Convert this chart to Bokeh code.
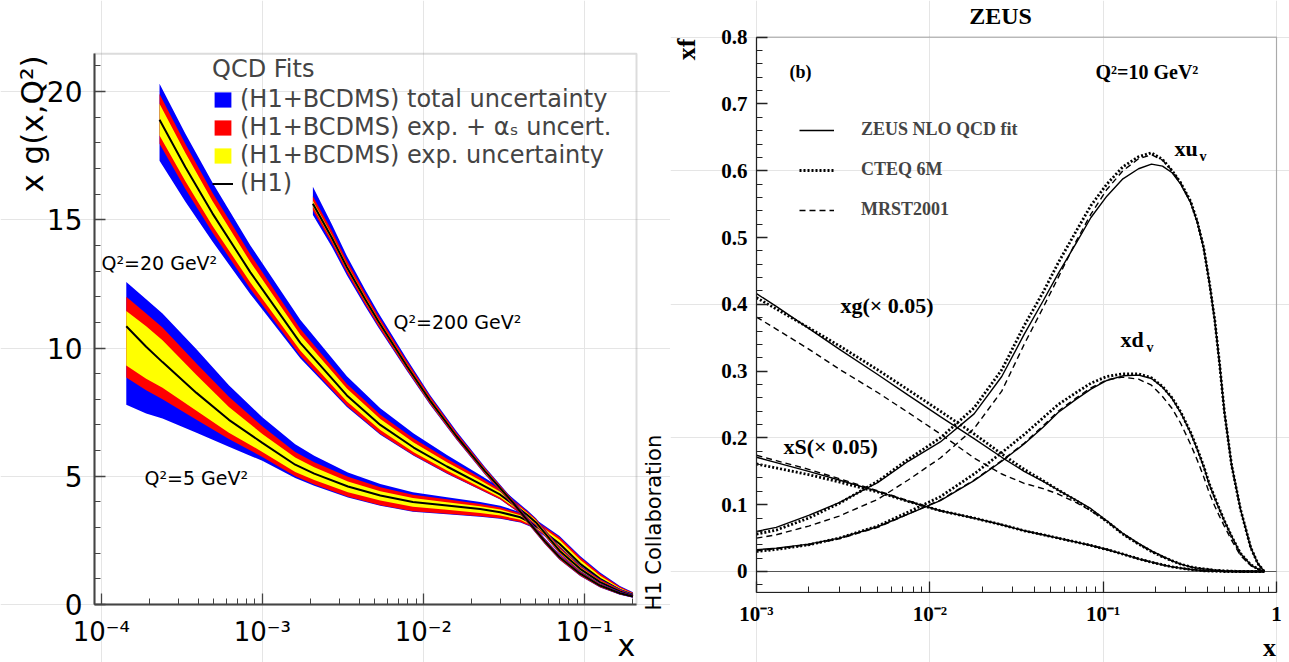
import numpy as np
from bokeh.plotting import figure
from bokeh.models import (FixedTicker, Label, Legend, LegendItem, Range1d, LogAxis,
                          LinearAxis, BoxAnnotation)
from bokeh.layouts import row
from bokeh.embed import file_html
from bokeh.resources import INLINE

# ---------------- H1 gluon density (left panel) ----------------
# Q2 = 5 GeV2 : central value and distances of band edges (upper / lower)
x_q5 = [1.43e-4, 1.9e-4, 2.4e-4, 3.9e-4, 6.2e-4, 1e-3, 1.6e-3, 2.1e-3, 3.4e-3, 5.4e-3, 8.6e-3,
        0.014, 0.0225, 0.03, 0.04, 0.046, 0.053, 0.07, 0.094, 0.125, 0.166, 0.2]
c_q5 = [10.85, 10.05, 9.45, 8.25, 7.2, 6.3, 5.45, 5.1, 4.6, 4.25, 4.0,
        3.86, 3.72, 3.6, 3.4, 3.2, 2.95, 2.37, 1.59, 1.0, 0.57, 0.38]
bu_q5 = [1.72, 1.85, 1.9, 1.7, 1.35, 1.0, 0.8, 0.7, 0.55, 0.45, 0.38, 0.32, 0.28, 0.25, 0.2, 0.2, 0.25, 0.3, 0.3, 0.25, 0.15, 0.1]
ru_q5 = [1.15, 1.3, 1.35, 1.15, 0.9, 0.65, 0.5, 0.45, 0.38, 0.32, 0.28, 0.24, 0.2, 0.18, 0.15, 0.15, 0.2, 0.25, 0.25, 0.2, 0.12, 0.08]
yu_q5 = [0.59, 0.8, 0.85, 0.7, 0.5, 0.35, 0.28, 0.25, 0.2, 0.17, 0.15, 0.13, 0.11, 0.1, 0.08, 0.08, 0.12, 0.15, 0.15, 0.12, 0.07, 0.05]
yl_q5 = [1.53, 1.25, 1.0, 0.7, 0.5, 0.35, 0.28, 0.25, 0.22, 0.2, 0.19, 0.17, 0.15, 0.13, 0.1, 0.09, 0.09, 0.09, 0.09, 0.07, 0.05, 0.04]
rl_q5 = [2.0, 1.7, 1.45, 1.05, 0.75, 0.55, 0.45, 0.42, 0.4, 0.38, 0.36, 0.32, 0.28, 0.24, 0.18, 0.14, 0.13, 0.13, 0.12, 0.1, 0.07, 0.05]
bl_q5 = [3.06, 2.6, 2.2, 1.55, 1.05, 0.7, 0.52, 0.47, 0.43, 0.4, 0.38, 0.34, 0.3, 0.26, 0.2, 0.16, 0.15, 0.15, 0.14, 0.12, 0.08, 0.06]

# Q2 = 20 GeV2
x_q20 = [2.3e-4, 3.33e-4, 4.9e-4, 8.43e-4, 1.72e-3, 3.35e-3, 5.4e-3, 8.7e-3, 0.014, 0.0225, 0.03,
         0.044, 0.05, 0.061, 0.07, 0.094, 0.125, 0.166, 0.2]
c_q20 = [18.9, 17.05, 15.25, 12.95, 10.2, 8.15, 7.0, 6.12, 5.38, 4.7, 4.28, 3.5, 3.2, 2.55, 2.1, 1.39, 0.87, 0.51, 0.33]
bu_q20 = [1.4, 1.3, 1.2, 1.05, 0.9, 0.75, 0.65, 0.55, 0.45, 0.35, 0.28, 0.18, 0.16, 0.15, 0.15, 0.14, 0.12, 0.09, 0.07]
ru_q20 = [1.0, 0.9, 0.8, 0.7, 0.55, 0.45, 0.4, 0.35, 0.3, 0.25, 0.2, 0.14, 0.13, 0.12, 0.12, 0.11, 0.1, 0.07, 0.05]
yu_q20 = [0.62, 0.55, 0.48, 0.4, 0.32, 0.27, 0.23, 0.2, 0.17, 0.14, 0.12, 0.08, 0.08, 0.07, 0.07, 0.07, 0.06, 0.04, 0.03]
yl_q20 = [0.62, 0.55, 0.48, 0.4, 0.3, 0.24, 0.2, 0.18, 0.16, 0.13, 0.11, 0.08, 0.08, 0.07, 0.07, 0.07, 0.06, 0.04, 0.03]
rl_q20 = [0.94, 0.85, 0.75, 0.65, 0.5, 0.4, 0.35, 0.3, 0.26, 0.22, 0.18, 0.13, 0.12, 0.11, 0.11, 0.1, 0.09, 0.06, 0.04]
bl_q20 = [1.6, 1.35, 1.1, 0.85, 0.6, 0.45, 0.38, 0.32, 0.28, 0.23, 0.19, 0.14, 0.13, 0.12, 0.12, 0.11, 0.1, 0.07, 0.05]

# Q2 = 200 GeV2
x_q200 = [2.06e-3, 2.7e-3, 3.35e-3, 4.35e-3, 5.24e-3, 7.89e-3, 0.011, 0.0161, 0.0241, 0.0362, 0.0459,
          0.0569, 0.07, 0.094, 0.125, 0.166, 0.2]
c_q200 = [15.62, 14.3, 13.15, 11.9, 11.05, 9.3, 7.95, 6.55, 5.2, 3.95, 3.15, 2.45, 1.84, 1.2, 0.74, 0.44, 0.31]
bu_q200 = [0.67, 0.52, 0.44, 0.37, 0.33, 0.27, 0.22, 0.19, 0.16, 0.13, 0.12, 0.12, 0.12, 0.11, 0.09, 0.07, 0.05]
ru_q200 = [0.3, 0.27, 0.25, 0.23, 0.21, 0.18, 0.16, 0.14, 0.12, 0.1, 0.09, 0.09, 0.09, 0.08, 0.07, 0.05, 0.04]
yu_q200 = [0.12, 0.11, 0.1, 0.1, 0.09, 0.08, 0.07, 0.06, 0.06, 0.05, 0.05, 0.05, 0.05, 0.04, 0.04, 0.03, 0.02]
yl_q200 = [0.1, 0.1, 0.09, 0.09, 0.08, 0.07, 0.07, 0.06, 0.06, 0.05, 0.05, 0.05, 0.05, 0.04, 0.04, 0.03, 0.02]
rl_q200 = [0.25, 0.22, 0.21, 0.19, 0.18, 0.15, 0.13, 0.12, 0.11, 0.1, 0.09, 0.09, 0.09, 0.08, 0.07, 0.05, 0.04]
bl_q200 = [0.43, 0.35, 0.31, 0.27, 0.24, 0.19, 0.16, 0.14, 0.13, 0.11, 0.1, 0.1, 0.1, 0.09, 0.08, 0.06, 0.05]

x_ticks_L = [1e-4, 1e-3, 1e-2, 1e-1]
x_labels_L = ["10⁻⁴", "10⁻³", "10⁻²", "10⁻¹"]
y_ticks_L = [0, 5, 10, 15, 20]
legend_labels_L = ["(H1+BCDMS) total uncertainty", "(H1+BCDMS) exp. + αₛ uncert.",
                   "(H1+BCDMS) exp. uncertainty", "(H1)"]

# ---------------- ZEUS PDFs (right panel) ----------------
x_R = [0.001, 0.0013, 0.002, 0.003, 0.005, 0.0075, 0.0115, 0.018, 0.026, 0.035, 0.045, 0.055,
       0.07, 0.085, 0.105, 0.13, 0.16, 0.19, 0.22, 0.25, 0.28, 0.32, 0.35, 0.38, 0.41, 0.44,
       0.47, 0.5, 0.55, 0.62, 0.71, 0.78, 0.85]
xuv_zeus = [0.060, 0.066, 0.084, 0.103, 0.133, 0.165, 0.194, 0.236, 0.292, 0.355, 0.405, 0.446,
            0.492, 0.530, 0.562, 0.588, 0.603, 0.610, 0.607, 0.597, 0.580, 0.552, 0.522, 0.484,
            0.432, 0.376, 0.310, 0.240, 0.160, 0.093, 0.036, 0.012, 0.0]
xuv_cteq = [0.056, 0.062, 0.080, 0.102, 0.135, 0.168, 0.200, 0.245, 0.302, 0.368, 0.418, 0.462,
            0.510, 0.548, 0.580, 0.606, 0.621, 0.627, 0.617, 0.600, 0.582, 0.554, 0.523, 0.485,
            0.433, 0.377, 0.310, 0.240, 0.160, 0.093, 0.036, 0.012, 0.0]
xuv_mrst = [0.050, 0.055, 0.068, 0.083, 0.108, 0.137, 0.170, 0.214, 0.270, 0.340, 0.395, 0.440,
            0.495, 0.535, 0.572, 0.600, 0.618, 0.624, 0.616, 0.600, 0.582, 0.553, 0.523, 0.485,
            0.433, 0.377, 0.310, 0.240, 0.160, 0.093, 0.036, 0.012, 0.0]
xdv_zeus = [0.0325, 0.035, 0.041, 0.050, 0.067, 0.086, 0.106, 0.136, 0.165, 0.191, 0.216, 0.238,
            0.258, 0.273, 0.286, 0.293, 0.294, 0.289, 0.276, 0.259, 0.238, 0.207, 0.182, 0.157,
            0.130, 0.110, 0.092, 0.076, 0.053, 0.027, 0.010, 0.004, 0.0]
xdv_cteq = [0.030, 0.033, 0.040, 0.050, 0.068, 0.089, 0.112, 0.146, 0.178, 0.205, 0.230, 0.250,
            0.268, 0.282, 0.292, 0.296, 0.296, 0.290, 0.277, 0.260, 0.239, 0.208, 0.183, 0.158,
            0.131, 0.111, 0.093, 0.076, 0.053, 0.027, 0.010, 0.004, 0.0]
xdv_mrst = [0.031, 0.034, 0.040, 0.049, 0.066, 0.086, 0.107, 0.137, 0.166, 0.192, 0.218, 0.240,
            0.260, 0.275, 0.287, 0.291, 0.288, 0.279, 0.262, 0.244, 0.222, 0.190, 0.166, 0.142,
            0.117, 0.098, 0.082, 0.068, 0.047, 0.024, 0.009, 0.003, 0.0]
xg_zeus = [0.416, 0.397, 0.364, 0.333, 0.295, 0.264, 0.232, 0.199, 0.171, 0.150, 0.135, 0.122,
           0.107, 0.094, 0.076, 0.057, 0.042, 0.031, 0.023, 0.016, 0.011, 0.007, 0.005, 0.004,
           0.003, 0.002, 0.0015, 0.001, 0.0005, 0.0, 0.0, 0.0, 0.0]
xg_cteq = [0.410, 0.393, 0.365, 0.338, 0.302, 0.272, 0.240, 0.206, 0.176, 0.153, 0.136, 0.122,
           0.106, 0.092, 0.075, 0.056, 0.041, 0.030, 0.022, 0.016, 0.011, 0.007, 0.005, 0.004,
           0.003, 0.002, 0.0015, 0.001, 0.0005, 0.0, 0.0, 0.0, 0.0]
xg_mrst = [0.381, 0.363, 0.333, 0.303, 0.268, 0.238, 0.206, 0.170, 0.146, 0.132, 0.124, 0.116,
           0.103, 0.091, 0.075, 0.056, 0.041, 0.030, 0.022, 0.016, 0.011, 0.007, 0.005, 0.004,
           0.003, 0.002, 0.0015, 0.001, 0.0005, 0.0, 0.0, 0.0, 0.0]
xS_zeus = [0.171, 0.163, 0.150, 0.137, 0.120, 0.105, 0.091, 0.080, 0.070, 0.061, 0.055, 0.050,
           0.044, 0.039, 0.033, 0.026, 0.019, 0.014, 0.010, 0.007, 0.005, 0.003, 0.002, 0.001,
           0.0007, 0.0005, 0.0003, 0.0, 0.0, 0.0, 0.0, 0.0, 0.0]
xS_cteq = [0.161, 0.155, 0.145, 0.134, 0.119, 0.105, 0.091, 0.080, 0.070, 0.061, 0.055, 0.050,
           0.044, 0.039, 0.033, 0.026, 0.019, 0.014, 0.010, 0.007, 0.005, 0.003, 0.002, 0.001,
           0.0007, 0.0005, 0.0003, 0.0, 0.0, 0.0, 0.0, 0.0, 0.0]
xS_mrst = [0.174, 0.166, 0.153, 0.139, 0.121, 0.106, 0.091, 0.080, 0.070, 0.061, 0.055, 0.050,
           0.044, 0.039, 0.033, 0.026, 0.019, 0.014, 0.010, 0.007, 0.005, 0.003, 0.002, 0.001,
           0.0007, 0.0005, 0.0003, 0.0, 0.0, 0.0, 0.0, 0.0, 0.0]

x_ticks_R = [1e-3, 1e-2, 1e-1, 1.0]
x_labels_R = ["10⁻³", "10⁻²", "10⁻¹", "1"]
y_ticks_R = [0, 0.1, 0.2, 0.3, 0.4, 0.5, 0.6, 0.7, 0.8]
y_labels_R = ["0", "0.1", "0.2", "0.3", "0.4", "0.5", "0.6", "0.7", "0.8"]
legend_labels_R = ["ZEUS NLO QCD fit", "CTEQ 6M", "MRST2001"]

# axis limits of the two frames
XLIM_L, YLIM_L = (10 ** -4.042, 10 ** -0.677), (0.0, 21.47)
XLIM_R, YLIM_R = (1e-3, 1.0), (-0.031, 0.8)

SANS = "DejaVu Sans"
SERIF = "Liberation Serif"
W_L, W_R, H = 670, 619, 662
# frame boxes inside each figure, pixels: left, right, top, bottom
FR_L = (94, 636, 53.3, 604)
FR_R = (86, 606, 36.7, 591.7)


def ext_log(lim, l, r, W):
    a, b = np.log10(lim[0]), np.log10(lim[1])
    ppd = (r - l) / (b - a)
    return Range1d(10 ** (a - l / ppd), 10 ** (b + (W - r) / ppd))


def ext_lin(lim, t, btm, H):
    ppu = (btm - t) / (lim[1] - lim[0])
    return Range1d(lim[0] - (H - btm) / ppu, lim[1] + t / ppu)


def log_minor(lim):
    out = [k * 10.0 ** d for d in range(-6, 1) for k in range(2, 10)]
    return [v for v in out if lim[0] <= v <= lim[1]]


def label(p, x0, cx, cy, text, size, font, style="normal", align="left", baseline="middle", angle=0.0):
    # cx, cy: page pixel position; x0: left edge of the figure on the page
    p.add_layout(Label(x=cx - x0, y=H - cy, x_units="screen", y_units="screen", text=text,
                       text_font_size=size, text_font=font, text_font_style=style,
                       text_align=align, text_baseline=baseline, angle=angle,
                       text_color="black"))


def style_axis(ax, font, size, style, line_color, line_width, standoff):
    ax.major_tick_in = 11
    ax.major_tick_out = 0
    ax.minor_tick_in = 6
    ax.minor_tick_out = 0
    ax.axis_line_color = line_color
    ax.axis_line_width = line_width
    ax.major_tick_line_color = line_color
    ax.minor_tick_line_color = line_color
    ax.major_tick_line_width = 1.3
    ax.minor_tick_line_width = 1.0
    ax.major_label_text_font = font
    ax.major_label_text_font_size = size
    ax.major_label_text_font_style = style
    ax.major_label_text_color = "black"
    ax.major_label_standoff = standoff


def make_fig(W, fr, xlim, ylim):
    p = figure(width=W, height=H, x_axis_type="log", x_axis_location=None, y_axis_location=None,
               x_range=ext_log(xlim, fr[0], fr[1], W), y_range=ext_lin(ylim, fr[2], fr[3], H),
               output_backend="svg", toolbar_location=None,
               min_border_left=0, min_border_right=0, min_border_top=0, min_border_bottom=0)
    p.outline_line_color = None
    return p


# ================= LEFT FIGURE =================
pL = make_fig(W_L, FR_L, XLIM_L, YLIM_L)
pL.add_layout(BoxAnnotation(left=XLIM_L[0], right=XLIM_L[1], bottom=YLIM_L[0], top=YLIM_L[1],
                            fill_alpha=0, line_color="#8c8c8c", line_width=2, level="underlay"))

BLUE, RED, YELLOW = "#0000ff", "#ff0000", "#ffff00"


def band(p, xs, c, bu, ru, yu, yl, rl, bl):
    xs = np.array(xs); c = np.array(c)
    rb = p.varea(x=xs, y1=c - np.array(bl), y2=c + np.array(bu), fill_color=BLUE)
    rr = p.varea(x=xs, y1=c - np.array(rl), y2=c + np.array(ru), fill_color=RED)
    ry = p.varea(x=xs, y1=c - np.array(yl), y2=c + np.array(yu), fill_color=YELLOW)
    rline = p.line(xs, c, line_color="black", line_width=2)
    return rb, rr, ry, rline


r5 = band(pL, x_q5, c_q5, bu_q5, ru_q5, yu_q5, yl_q5, rl_q5, bl_q5)
r20 = band(pL, x_q20, c_q20, bu_q20, ru_q20, yu_q20, yl_q20, rl_q20, bl_q20)
r200 = band(pL, x_q200, c_q200, bu_q200, ru_q200, yu_q200, yl_q200, rl_q200, bl_q200)

xaxL = LogAxis(fixed_location=YLIM_L[0], bounds=XLIM_L,
               ticker=FixedTicker(ticks=x_ticks_L, minor_ticks=log_minor(XLIM_L)),
               major_label_overrides=dict(zip(x_ticks_L, x_labels_L)))
style_axis(xaxL, SANS, "26px", "normal", "#444444", 2, 12)
pL.add_layout(xaxL, "below")
yaxL = LinearAxis(fixed_location=XLIM_L[0], bounds=YLIM_L,
                  ticker=FixedTicker(ticks=y_ticks_L, minor_ticks=list(range(0, 22))))
style_axis(yaxL, SANS, "28px", "normal", "#444444", 2, 12)
pL.add_layout(yaxL, "left")

legL = Legend(items=[LegendItem(label=legend_labels_L[i], renderers=[r5[i]]) for i in range(4)],
              location=(212, 465), title="QCD Fits",
              title_text_font=SANS, title_text_font_size="24px", title_text_font_style="normal",
              label_text_font=SANS, label_text_font_size="24px",
              glyph_width=21, glyph_height=19, label_standoff=7, spacing=0, label_height=26,
              padding=0, margin=0, title_standoff=2,
              border_line_alpha=0, background_fill_alpha=0)
pL.add_layout(legL)

label(pL, 0, 101, 262, "Q²=20 GeV²", "19px", SANS)
label(pL, 0, 393, 321, "Q²=200 GeV²", "19px", SANS)
label(pL, 0, 144, 477, "Q²=5 GeV²", "19px", SANS)
label(pL, 0, 31, 55, "x g(x,Q²)", "31px", SANS, align="right", angle=np.pi / 2)
label(pL, 0, 653, 610, "H1 Collaboration", "21px", SANS, align="left", angle=np.pi / 2)
label(pL, 0, 626, 645, "x", "30px", SANS, align="center")

# ================= RIGHT FIGURE =================
X0R = W_L
pR = make_fig(W_R, FR_R, XLIM_R, YLIM_R)
pR.add_layout(BoxAnnotation(left=XLIM_R[0], right=XLIM_R[1], bottom=YLIM_R[0], top=YLIM_R[1],
                            fill_alpha=0, line_color="#222222", line_width=1.2, level="underlay"))
pR.line(list(XLIM_R), [0, 0], line_color="#555555", line_width=1.2)

series = [(xuv_zeus, xuv_cteq, xuv_mrst), (xdv_zeus, xdv_cteq, xdv_mrst),
          (xg_zeus, xg_cteq, xg_mrst), (xS_zeus, xS_cteq, xS_mrst)]
rz = rc = rm = None
for z, c, m in series:
    rm = pR.line(x_R, m, line_color="black", line_width=1.4, line_dash="6 4")
    rc = pR.line(x_R, c, line_color="black", line_width=2.8, line_dash="2 2")
    rz = pR.line(x_R, z, line_color="black", line_width=1.4)

xaxR = LogAxis(fixed_location=YLIM_R[0], bounds=XLIM_R,
               ticker=FixedTicker(ticks=x_ticks_R, minor_ticks=log_minor(XLIM_R)),
               major_label_overrides=dict(zip(x_ticks_R, x_labels_R)))
style_axis(xaxR, SERIF, "21px", "bold", "#222222", 1.2, 10)
pR.add_layout(xaxR, "below")
yaxR = LinearAxis(fixed_location=XLIM_R[0], bounds=YLIM_R,
                  ticker=FixedTicker(ticks=y_ticks_R,
                                     minor_ticks=[round(-0.02 + 0.02 * i, 2) for i in range(42)]),
                  major_label_overrides=dict(zip(y_ticks_R, y_labels_R)))
style_axis(yaxR, SERIF, "21px", "bold", "#222222", 1.2, 9)
pR.add_layout(yaxR, "left")

legR = Legend(items=[LegendItem(label=legend_labels_R[0], renderers=[rz]),
                     LegendItem(label=legend_labels_R[1], renderers=[rc]),
                     LegendItem(label=legend_labels_R[2], renderers=[rm])],
              location=(799 - X0R, 442),
              label_text_font=SERIF, label_text_font_size="18px", label_text_font_style="bold",
              glyph_width=35, glyph_height=20, label_height=20, label_standoff=27, spacing=19,
              padding=0, margin=0, border_line_alpha=0, background_fill_alpha=0)
pR.add_layout(legR)

label(pR, X0R, 1000, 15, "ZEUS", "24px", SERIF, style="bold", align="center")
label(pR, X0R, 686, 38, "xf", "26px", SERIF, style="bold", align="right", angle=np.pi / 2)
label(pR, X0R, 1269, 647, "x", "26px", SERIF, style="bold", align="center")
label(pR, X0R, 789, 71.5, "(b)", "18px", SERIF, style="bold")
label(pR, X0R, 1095, 71.5, "Q²=10 GeV²", "20px", SERIF, style="bold")
label(pR, X0R, 1174, 147.7, "xu", "22px", SERIF, style="bold")
label(pR, X0R, 1199, 155.7, "v", "14px", SERIF, style="bold")
label(pR, X0R, 1120, 338.7, "xd", "22px", SERIF, style="bold")
label(pR, X0R, 1146, 346.7, "v", "14px", SERIF, style="bold")
label(pR, X0R, 840, 304.7, "xg(× 0.05)", "22px", SERIF, style="bold")
label(pR, X0R, 783, 445.7, "xS(× 0.05)", "22px", SERIF, style="bold")

layout = row(pL, pR)
open("out.html", "w").write(file_html(layout, INLINE))
